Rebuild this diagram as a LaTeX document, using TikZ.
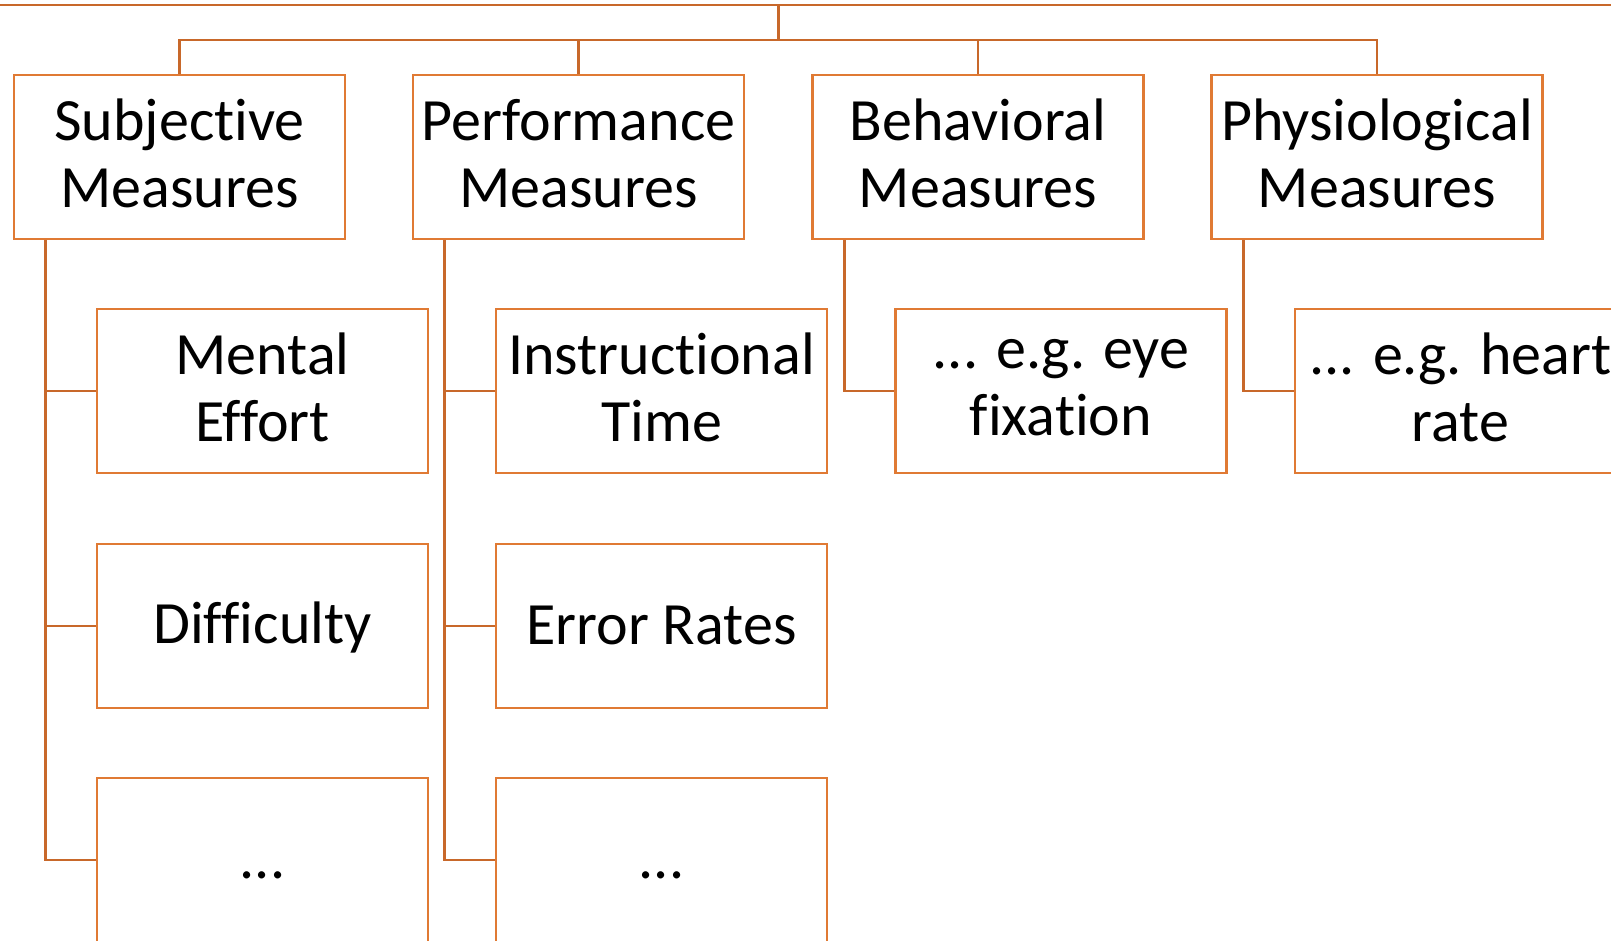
\documentclass[tikz,border=0pt]{standalone}
\usepackage{fontspec}
\setmainfont[Ligatures=NoCommon]{Carlito}
\definecolor{boxc}{RGB}{224,122,52}
\definecolor{wirec}{RGB}{200,104,42}
\tikzset{
  box/.style={draw=boxc, line width=2.5pt, fill=white,
    minimum width=331pt, minimum height=164pt, inner sep=0pt,
    align=center, font=\fontsize{60}{67}\selectfont,
    execute at begin node=\rule{0pt}{44pt},
    execute at end node=\rule[-7pt]{0pt}{7pt}},
  wire/.style={draw=wirec, line width=2.8pt},
}
\begin{document}
\begin{tikzpicture}[x=1pt, y=-1pt]
\useasboundingbox (0,0) rectangle (1611,941);

% main categories
\node[box] (subj) at (179.5,157) {Subjective\\Measures};
\node[box] (perf) at (578.5,157) {Performance\\Measures};
\node[box] (beh)  at (978,157)   {Behavioral\\Measures};
\node[box] (phys) at (1377,157)  {Physiological\\Measures};

% subjective measures
\node[box] (s1) at (262.5,391) {Mental\\Effort};
\node[box] (s2) at (262.5,626) {Difficulty};
\node[box] (s3) at (262.5,860) {...};

% performance measures
\node[box] (p1) at (661.5,391) {Instructional\\Time};
\node[box] (p2) at (661.5,626) {Error Rates};
\node[box] (p3) at (661.5,860) {...};

% behavioral and physiological examples
\node[box] (b1) at (1061,391)   {... e.g. eye\\fixation};
\node[box] (h1) at (1460.5,391) {... e.g. heart\\rate};

% branch from the parent level
\coordinate (topL) at (-20,5);
\coordinate (topR) at (1631,5);
\coordinate (hub)  at (778.5,5);
\coordinate (bar)  at (778.5,40);
\draw[wire] (topL) -- (topR);
\draw[wire] (hub) -- (bar);
\draw[wire] (subj.north) |- (bar) -| (phys.north);
\draw[wire] (perf.north) |- (bar);
\draw[wire] (beh.north) |- (bar);

% child connectors
\draw[wire] ([xshift=33pt]subj.south west) |- (s3.west);
\draw[wire] ([xshift=33pt]subj.south west) |- (s1.west);
\draw[wire] ([xshift=33pt]subj.south west) |- (s2.west);
\draw[wire] ([xshift=33pt]perf.south west) |- (p3.west);
\draw[wire] ([xshift=33pt]perf.south west) |- (p1.west);
\draw[wire] ([xshift=33pt]perf.south west) |- (p2.west);
\draw[wire] ([xshift=33pt]beh.south west) |- (b1.west);
\draw[wire] ([xshift=33pt]phys.south west) |- (h1.west);
\end{tikzpicture}
\end{document}
